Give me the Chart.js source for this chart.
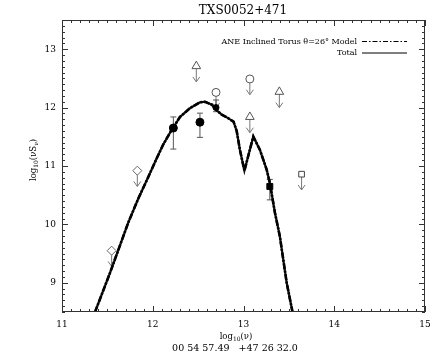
<!DOCTYPE html>
<html>
<head>
<meta charset="utf-8">
<script src="https://cdn.jsdelivr.net/npm/chart.js@4.4.1/dist/chart.umd.min.js"></script>
<style>
html, body { margin: 0; padding: 0; background: #fff; }
#wrap { width: 443px; height: 354px; }
</style>
</head>
<body>
<div id="wrap"><canvas id="sed"></canvas></div>
<script>
// model SED curve (log nu, log nuSnu)
const modelX = [11.364, 11.529, 11.62, 11.73, 11.84, 11.95, 12.04, 12.116, 12.19, 12.30, 12.41, 12.52, 12.576,
                12.65, 12.70, 12.76, 12.83, 12.89, 12.925, 12.96, 13.01, 13.108, 13.18, 13.255, 13.29, 13.347,
                13.40, 13.476, 13.54];
const modelY = [8.5, 9.17, 9.56, 10.03, 10.44, 10.81, 11.12, 11.37, 11.57, 11.84, 11.99, 12.09, 12.10,
                12.05, 11.96, 11.88, 11.82, 11.76, 11.6, 11.28, 10.92, 11.505, 11.28, 10.94, 10.71, 10.196,
                9.80, 9.0, 8.5];

// detections with error bars
const detX  = [12.227, 12.52, 12.697];
const detY  = [11.65, 11.75, 12.0];
const detLo = [11.29, 11.49, 11.93];
const detHi = [11.84, 11.905, 12.13];
const sqX  = [13.29];
const sqY  = [10.65];
const sqLo = [10.42];
const sqHi = [10.77];

// upper limits
const limDiamondX = [11.547, 11.83];
const limDiamondY = [9.55, 10.92];
const limTriX = [12.48, 13.07, 13.395];
const limTriY = [12.71, 11.84, 12.27];
const limCircX = [12.697, 13.07];
const limCircY = [12.26, 12.49];
const limSqX = [13.64];
const limSqY = [10.86];
const arrowLen = 0.27;

const xTicks = [11, 12, 13, 14, 15];
const yTicks = [9, 10, 11, 12, 13];
const xTickLabels = ['11', '12', '13', '14', '15'];
const yTickLabels = ['9', '10', '11', '12', '13'];

const pts = (xs, ys) => xs.map((v, i) => ({ x: v, y: ys[i] }));
const SERIF = '"DejaVu Serif", "Liberation Serif", serif';

function drawParts(ctx, parts, x, y) {
  // parts: [text, size, dy]
  let w = 0;
  parts.forEach(p => { ctx.font = p[1] + 'px ' + SERIF; w += ctx.measureText(p[0]).width; });
  let cx = x - w / 2;
  ctx.textAlign = 'left';
  ctx.textBaseline = 'middle';
  parts.forEach(p => {
    ctx.font = p[1] + 'px ' + SERIF;
    ctx.fillText(p[0], cx, y + p[2]);
    cx += ctx.measureText(p[0]).width;
  });
}

const sedExtras = {
  id: 'sedExtras',
  beforeDatasetsDraw(chart) {
    const { ctx, scales: { x, y } } = chart;
    ctx.save();
    // arrows for upper limits
    ctx.strokeStyle = '#777';
    ctx.lineWidth = 1;
    const arrow = (vx, vy) => {
      const px = x.getPixelForValue(vx);
      const p0 = y.getPixelForValue(vy);
      const p1 = y.getPixelForValue(vy - arrowLen);
      ctx.beginPath();
      ctx.moveTo(px, p0);
      ctx.lineTo(px, p1);
      ctx.moveTo(px - 3.5, p1 - 5);
      ctx.lineTo(px, p1);
      ctx.lineTo(px + 3.5, p1 - 5);
      ctx.stroke();
    };
    limDiamondX.forEach((v, i) => arrow(v, limDiamondY[i]));
    limTriX.forEach((v, i) => arrow(v, limTriY[i]));
    limCircX.forEach((v, i) => arrow(v, limCircY[i]));
    limSqX.forEach((v, i) => arrow(v, limSqY[i]));

    // error bars
    ctx.strokeStyle = '#555';
    const err = (vx, lo, hi) => {
      const px = x.getPixelForValue(vx);
      const a = y.getPixelForValue(lo), b = y.getPixelForValue(hi);
      ctx.beginPath();
      ctx.moveTo(px, a); ctx.lineTo(px, b);
      ctx.moveTo(px - 3, a); ctx.lineTo(px + 3, a);
      ctx.moveTo(px - 3, b); ctx.lineTo(px + 3, b);
      ctx.stroke();
    };
    detX.forEach((v, i) => err(v, detLo[i], detHi[i]));
    sqX.forEach((v, i) => err(v, sqLo[i], sqHi[i]));
    ctx.restore();
  },
  afterDraw(chart) {
    const { ctx, chartArea: a, scales: { x, y } } = chart;
    ctx.save();
    // frame
    ctx.strokeStyle = '#333';
    ctx.lineWidth = 1;
    ctx.strokeRect(a.left + 0.5, a.top + 0.5, a.right - a.left - 1, a.bottom - a.top - 1);
    // inward ticks on all four sides
    ctx.beginPath();
    for (let k = 110; k <= 150; k++) {
      const v = k / 10;
      const len = k % 10 === 0 ? 6 : 3;
      const px = Math.round(x.getPixelForValue(v)) + 0.5;
      ctx.moveTo(px, a.bottom); ctx.lineTo(px, a.bottom - len);
      ctx.moveTo(px, a.top); ctx.lineTo(px, a.top + len);
    }
    for (let k = 85; k <= 135; k++) {
      const v = k / 10;
      const len = k % 10 === 0 ? 6 : 3;
      const py = Math.round(y.getPixelForValue(v)) + 0.5;
      ctx.moveTo(a.left, py); ctx.lineTo(a.left + len, py);
      ctx.moveTo(a.right, py); ctx.lineTo(a.right - len, py);
    }
    ctx.stroke();

    ctx.fillStyle = '#000';
    // title
    drawParts(ctx, [['TXS0052+471', 12, 0]], 243, 11);
    // axis titles
    drawParts(ctx, [['log', 8.5, 0], ['10', 6, 2.5], ['(\u03bd)', 8.5, 0]], 236, 337);
    drawParts(ctx, [['00 54 57.49   +47 26 32.0', 9.5, 0]], 235, 349);
    ctx.save();
    ctx.translate(34, 160);
    ctx.rotate(-Math.PI / 2);
    drawParts(ctx, [['log', 8.5, 0], ['10', 6, 2.5], ['(\u03bdS', 8.5, 0], ['\u03bd', 6, 2.5], [')', 8.5, 0]], 0, 0);
    ctx.restore();

    // legend
    ctx.font = '8px ' + SERIF;
    ctx.textAlign = 'right';
    ctx.textBaseline = 'middle';
    ctx.fillText('ANE Inclined Torus \u03b8=26\u00b0 Model', 357, 41.5);
    ctx.fillText('Total', 357, 53);
    ctx.strokeStyle = '#000';
    ctx.lineWidth = 1.2;
    ctx.setLineDash([5, 2, 1.5, 2]);
    ctx.beginPath(); ctx.moveTo(362, 41.5); ctx.lineTo(407, 41.5); ctx.stroke();
    ctx.setLineDash([]);
    ctx.beginPath(); ctx.moveTo(362, 53); ctx.lineTo(407, 53); ctx.stroke();
    ctx.restore();
  }
};

new Chart(document.getElementById('sed'), {
  type: 'scatter',
  data: {
    datasets: [
      { label: 'det', data: pts(detX, detY), pointStyle: 'circle', pointRadius: [4, 4, 3],
        backgroundColor: '#000', borderColor: '#000' },
      { label: 'detSq', data: pts(sqX, sqY), pointStyle: 'rect', pointRadius: 4.2,
        backgroundColor: '#000', borderColor: '#000' },
      { label: 'limDiamond', data: pts(limDiamondX, limDiamondY), pointStyle: 'rectRot', pointRadius: 4.5,
        backgroundColor: '#fff', borderColor: '#666', borderWidth: 1 },
      { label: 'limTri', data: pts(limTriX, limTriY), pointStyle: 'triangle', pointRadius: 5,
        backgroundColor: '#fff', borderColor: '#555', borderWidth: 1 },
      { label: 'limCirc', data: pts(limCircX, limCircY), pointStyle: 'circle', pointRadius: 4,
        backgroundColor: '#fff', borderColor: '#555', borderWidth: 1 },
      { label: 'limSq', data: pts(limSqX, limSqY), pointStyle: 'rect', pointRadius: 4,
        backgroundColor: '#fff', borderColor: '#444', borderWidth: 1 },
      { label: 'ANE Inclined Torus \u03b8=26\u00b0 Model', data: pts(modelX, modelY), showLine: true,
        borderColor: '#000', borderWidth: 2.6, borderDash: [6, 1.5, 2, 1.5], pointRadius: 0, tension: 0 },
      { label: 'Total', data: pts(modelX, modelY), showLine: true,
        borderColor: '#111', borderWidth: 2.2, pointRadius: 0, tension: 0 }
    ]
  },
  options: {
    responsive: true,
    maintainAspectRatio: false,
    animation: false,
    layout: { padding: { top: 20, right: 18, left: 0, bottom: 0 } },
    plugins: { legend: { display: false }, tooltip: { enabled: false } },
    scales: {
      x: {
        type: 'linear', min: 11, max: 15,
        afterBuildTicks: s => { s.ticks = xTicks.map(v => ({ value: v })); },
        afterFit: s => { s.height = 42; },
        grid: { display: false, drawTicks: false },
        border: { display: false },
        ticks: { padding: 7, color: '#000', font: { family: SERIF, size: 9 },
                 maxRotation: 0, callback: (v) => xTickLabels[xTicks.indexOf(v)] }
      },
      y: {
        type: 'linear', min: 8.5, max: 13.5,
        afterBuildTicks: s => { s.ticks = yTicks.map(v => ({ value: v })); },
        afterFit: s => { s.width = 62; },
        grid: { display: false, drawTicks: false },
        border: { display: false },
        ticks: { padding: 6, color: '#000', font: { family: SERIF, size: 9 },
                 callback: (v) => yTickLabels[yTicks.indexOf(v)] }
      }
    }
  },
  plugins: [sedExtras]
});
</script>
</body>
</html>
